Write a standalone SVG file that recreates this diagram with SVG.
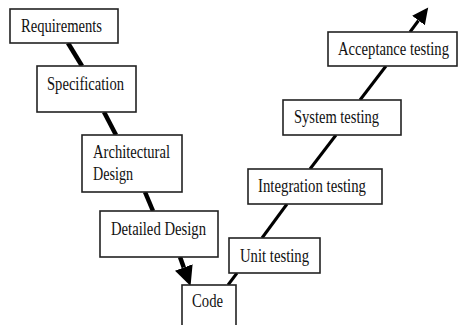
<svg xmlns="http://www.w3.org/2000/svg" width="459" height="325" viewBox="0 0 459 325">
<style>
.box{fill:#fff;stroke:#222;stroke-width:1.6}
.t{font-family:"Liberation Serif","Times New Roman",serif;font-size:18px;fill:#111}
.thick{stroke:#000;stroke-width:4.5;fill:none}
.thin{stroke:#000;stroke-width:3;fill:none}
</style>
<defs>
<marker id="bigHead" markerUnits="userSpaceOnUse" markerWidth="22" markerHeight="22" viewBox="0 -10 20 20" refX="0" refY="0" orient="auto">
<path d="M0,-8.5 L18,0 L0,8.5 z" fill="#000"/>
</marker>
<marker id="smallHead" markerUnits="userSpaceOnUse" markerWidth="18" markerHeight="18" viewBox="0 -8 16 16" refX="0" refY="0" orient="auto">
<path d="M0,-7 L14.5,0 L0,7 z" fill="#000"/>
</marker>
</defs>
<g id="connectors">
<line class="thick" x1="68" y1="43" x2="82" y2="66"/>
<line class="thick" x1="104" y1="112" x2="116" y2="135"/>
<line class="thick" x1="145" y1="192" x2="153" y2="211"/>
<line class="thick" x1="180" y1="257" x2="183.8" y2="267.5" marker-end="url(#bigHead)"/>
<line class="thin" x1="228" y1="285" x2="237" y2="273"/>
<line class="thin" x1="262" y1="238" x2="287" y2="204"/>
<line class="thin" x1="310" y1="169" x2="336" y2="135"/>
<line class="thin" x1="360" y1="100" x2="386" y2="66"/>
<line class="thin" x1="410" y1="32" x2="418.5" y2="20.5" marker-end="url(#smallHead)"/>
</g>
<g id="requirements">
<rect class="box" x="10" y="9" width="108" height="34"/>
<text class="t" x="21" y="32" textLength="81" lengthAdjust="spacingAndGlyphs">Requirements</text>
</g>
<g id="specification">
<rect class="box" x="37" y="66" width="99" height="46"/>
<text class="t" x="47" y="90" textLength="77" lengthAdjust="spacingAndGlyphs">Specification</text>
</g>
<g id="architectural-design">
<rect class="box" x="82" y="135" width="100" height="57"/>
<text class="t" x="93" y="158" textLength="77" lengthAdjust="spacingAndGlyphs">Architectural</text>
<text class="t" x="93" y="180" textLength="40" lengthAdjust="spacingAndGlyphs">Design</text>
</g>
<g id="detailed-design">
<rect class="box" x="100" y="211" width="118" height="46"/>
<text class="t" x="111" y="235" textLength="95" lengthAdjust="spacingAndGlyphs">Detailed Design</text>
</g>
<g id="code">
<rect class="box" x="182" y="285" width="54" height="50"/>
<text class="t" x="192" y="307" textLength="31" lengthAdjust="spacingAndGlyphs">Code</text>
</g>
<g id="unit-testing">
<rect class="box" x="229" y="238" width="91" height="35"/>
<text class="t" x="240" y="262" textLength="69" lengthAdjust="spacingAndGlyphs">Unit testing</text>
</g>
<g id="integration-testing">
<rect class="box" x="248" y="169" width="134" height="35"/>
<text class="t" x="258" y="192" textLength="108" lengthAdjust="spacingAndGlyphs">Integration testing</text>
</g>
<g id="system-testing">
<rect class="box" x="283" y="100" width="118" height="35"/>
<text class="t" x="294" y="123" textLength="85" lengthAdjust="spacingAndGlyphs">System testing</text>
</g>
<g id="acceptance-testing">
<rect class="box" x="328" y="32" width="129" height="34"/>
<text class="t" x="338" y="55" textLength="111" lengthAdjust="spacingAndGlyphs">Acceptance testing</text>
</g>
</svg>
